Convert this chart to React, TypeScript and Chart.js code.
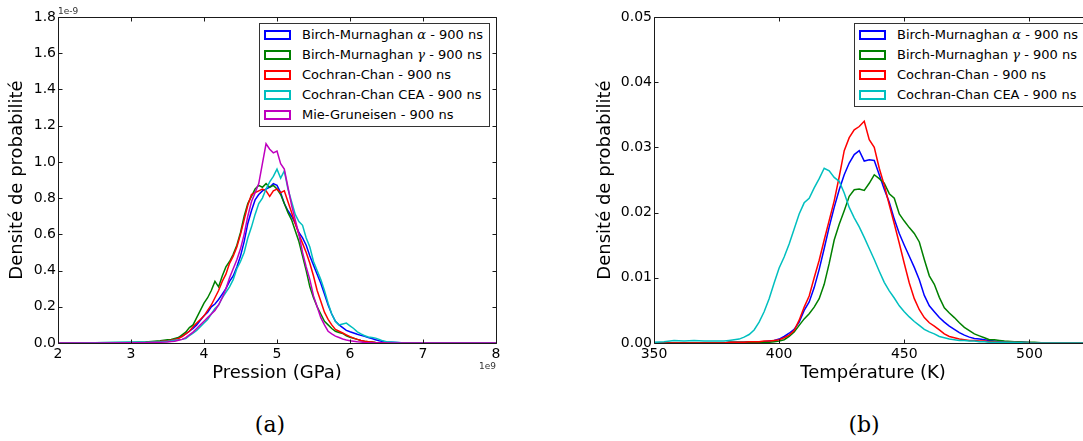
import React, { useEffect, useRef } from "react";
import { Chart, registerables } from "chart.js";

Chart.register(...registerables);

const FONT = '"DejaVu Sans", sans-serif';

// ---------- Panel (a): pressure ----------
const PRESSURE_GPA = [
  2.0, 2.5, 3.0, 3.2, 3.4,
  3.5, 3.55, 3.6, 3.65, 3.7, 3.75, 3.8, 3.85, 3.9, 3.95,
  4.0, 4.05, 4.1, 4.15, 4.2, 4.25, 4.3, 4.35, 4.4, 4.45,
  4.5, 4.55, 4.6, 4.65, 4.7, 4.75, 4.8, 4.85, 4.9, 4.95,
  5.0, 5.05, 5.1, 5.15, 5.2, 5.25, 5.3, 5.35, 5.4, 5.45,
  5.5, 5.55, 5.6, 5.65, 5.7, 5.75, 5.8, 5.85, 5.9, 5.95,
  6.0, 6.05, 6.1, 6.15, 6.2, 6.25, 6.3, 6.35, 6.4, 6.45,
  6.5, 6.7, 7.0, 7.5, 8.0,
];

// densities in units of 1e-9
const P_BM_ALPHA = [
  0, 0, 0.002, 0.004, 0.008,
  0.012, 0.016, 0.02, 0.03, 0.038, 0.05, 0.065, 0.08, 0.1, 0.125,
  0.15, 0.17, 0.2, 0.215, 0.24, 0.27, 0.3, 0.34, 0.37, 0.42,
  0.48, 0.56, 0.66, 0.73, 0.79, 0.82, 0.84, 0.85, 0.86, 0.88,
  0.87, 0.83, 0.77, 0.73, 0.7, 0.66, 0.61, 0.58, 0.54, 0.48,
  0.43, 0.38, 0.33, 0.27, 0.21, 0.16, 0.12, 0.1, 0.085, 0.07,
  0.062, 0.055, 0.048, 0.042, 0.037, 0.03, 0.025, 0.018, 0.012, 0.008,
  0.005, 0.002, 0, 0, 0,
];
const P_BM_GAMMA = [
  0, 0.001, 0.003, 0.005, 0.012,
  0.018, 0.02, 0.025, 0.03, 0.045, 0.06, 0.085, 0.1, 0.14, 0.18,
  0.22, 0.25, 0.29, 0.34, 0.31, 0.37, 0.42, 0.45, 0.49, 0.54,
  0.61, 0.7, 0.77, 0.81, 0.85, 0.87, 0.86, 0.88, 0.86, 0.87,
  0.85, 0.82, 0.77, 0.72, 0.68, 0.62, 0.56, 0.48, 0.4, 0.31,
  0.25, 0.2, 0.16, 0.12, 0.1, 0.08, 0.065, 0.058, 0.053, 0.04,
  0.032, 0.026, 0.02, 0.014, 0.01, 0.007, 0.005, 0.003, 0.002, 0.001,
  0.001, 0, 0, 0, 0,
];
const P_CC = [
  0, 0, 0.001, 0.003, 0.008,
  0.012, 0.015, 0.02, 0.025, 0.035, 0.05, 0.065, 0.09, 0.11, 0.13,
  0.15, 0.18, 0.21, 0.25, 0.29, 0.34, 0.38, 0.44, 0.48, 0.53,
  0.6, 0.68, 0.76, 0.82, 0.83, 0.84, 0.85, 0.84, 0.81, 0.84,
  0.85, 0.83, 0.84, 0.78, 0.72, 0.66, 0.6, 0.55, 0.5, 0.44,
  0.37, 0.29, 0.23, 0.17, 0.13, 0.1, 0.075, 0.065, 0.055, 0.045,
  0.035, 0.027, 0.02, 0.014, 0.01, 0.007, 0.005, 0.003, 0.002, 0.001,
  0.001, 0, 0, 0, 0,
];
const P_CC_CEA = [
  0, 0.002, 0.006, 0.004, 0.007,
  0.01, 0.012, 0.015, 0.018, 0.02, 0.025, 0.04, 0.055, 0.07, 0.09,
  0.11, 0.13, 0.16, 0.19, 0.21, 0.25, 0.28, 0.31, 0.35, 0.41,
  0.45, 0.5, 0.58, 0.64, 0.71, 0.77, 0.8, 0.85, 0.89, 0.92,
  0.96, 0.91, 0.95, 0.85, 0.78, 0.71, 0.67, 0.65, 0.58, 0.53,
  0.45, 0.4, 0.35, 0.29, 0.22, 0.16, 0.12, 0.1, 0.105, 0.11,
  0.095, 0.08, 0.062, 0.05, 0.04, 0.033, 0.03, 0.027, 0.02, 0.012,
  0.007, 0.002, 0, 0, 0,
];
const P_MG = [
  0, 0, 0.001, 0.002, 0.004,
  0.006, 0.008, 0.01, 0.015, 0.02, 0.03, 0.045, 0.06, 0.08, 0.1,
  0.12, 0.14, 0.16, 0.18, 0.21, 0.25, 0.3, 0.36, 0.41, 0.46,
  0.52, 0.6, 0.7, 0.78, 0.83, 0.88, 0.99, 1.1, 1.07, 1.05,
  1.06, 0.99, 0.96, 0.86, 0.76, 0.68, 0.6, 0.5, 0.42, 0.35,
  0.26, 0.2, 0.14, 0.1, 0.065, 0.05, 0.038, 0.03, 0.022, 0.017,
  0.013, 0.01, 0.007, 0.005, 0.003, 0.002, 0.001, 0, 0, 0,
  0, 0, 0, 0, 0,
];

const LABELS_A = [
  "Birch-Murnaghan α - 900 ns",
  "Birch-Murnaghan γ - 900 ns",
  "Cochran-Chan - 900 ns",
  "Cochran-Chan CEA - 900 ns",
  "Mie-Gruneisen - 900 ns",
];
const COLORS_A = ["#0000ff", "#008000", "#ff0000", "#00bfbf", "#bf00bf"];

// ---------- Panel (b): temperature ----------
const TEMPERATURE_K = [
  350, 354, 358, 362, 366, 370, 374, 378,
  380, 382, 384, 386, 388, 390, 392, 394, 396, 398,
  400, 402, 404, 406, 408, 410, 412, 414, 416, 418,
  420, 422, 424, 426, 428, 430, 432, 434, 436, 438,
  440, 442, 444, 446, 448, 450, 452, 454, 456, 458,
  460, 462, 464, 466, 468, 470, 472, 474, 476, 478,
  480, 482, 484, 486, 488, 490,
  494, 498, 502, 506, 510, 515, 520, 525,
];
const T_BM_ALPHA = [
  0, 0, 0, 0, 0, 0, 0, 0,
  0.0001, 0.0001, 0.0001, 0.0001, 0.0002, 0.0002, 0.0002, 0.0002, 0.0003, 0.0004,
  0.0006, 0.001, 0.0015, 0.0021, 0.0032, 0.005, 0.0063, 0.0085, 0.0113, 0.0145,
  0.0178, 0.0208, 0.0235, 0.0258, 0.0276, 0.0289, 0.0295, 0.0279, 0.0281, 0.028,
  0.0258, 0.0236, 0.0216, 0.019, 0.0168, 0.015, 0.0133, 0.0116, 0.0097, 0.0073,
  0.0057, 0.0048, 0.0039, 0.0032, 0.0026, 0.0021, 0.0016, 0.0012, 0.0009, 0.0007,
  0.0006, 0.0005, 0.0004, 0.0003, 0.0002, 0.0002,
  0.0001, 0.0001, 0, 0, 0, 0, 0, 0,
];
const T_BM_GAMMA = [
  0, 0, 0, 0, 0, 0, 0, 0,
  0.0001, 0.0001, 0.0001, 0.0001, 0.0001, 0.0001, 0.0001, 0.0001, 0.0001, 0.0002,
  0.0003, 0.0005, 0.001, 0.0017, 0.0027, 0.0037, 0.0045, 0.0055, 0.0068, 0.009,
  0.0122, 0.0158, 0.0182, 0.0203, 0.0225, 0.0235, 0.0236, 0.0234, 0.0245, 0.0258,
  0.0252, 0.0245, 0.0229, 0.0222, 0.0198, 0.0187, 0.0177, 0.0168, 0.0155, 0.0128,
  0.0103, 0.009, 0.007, 0.0054, 0.0046, 0.0039, 0.0031, 0.0024, 0.0019, 0.0014,
  0.0011, 0.0008, 0.0005, 0.0005, 0.0004, 0.0003,
  0.0002, 0.0001, 0.0001, 0, 0, 0, 0, 0,
];
const T_CC = [
  0, 0, 0, 0, 0, 0, 0, 0,
  0.0001, 0.0001, 0.0001, 0.0001, 0.0002, 0.0002, 0.0002, 0.0003, 0.0003, 0.0004,
  0.0005, 0.0008, 0.0012, 0.0019, 0.0035, 0.0055, 0.0072, 0.01, 0.0127, 0.0158,
  0.0188, 0.0218, 0.0255, 0.0295, 0.0315, 0.0327, 0.0332, 0.034, 0.0312, 0.03,
  0.0268, 0.0242, 0.0212, 0.0183, 0.0153, 0.0122, 0.0092, 0.0068, 0.0051, 0.0039,
  0.0031, 0.0026, 0.002, 0.0014, 0.001, 0.0008, 0.0006, 0.0005, 0.0004, 0.0004,
  0.0003, 0.0003, 0.0002, 0.0002, 0.0001, 0.0001,
  0.0001, 0, 0, 0, 0, 0, 0, 0,
];
const T_CC_CEA = [
  0.0001, 0.0002, 0.0004, 0.0003, 0.0004, 0.0003, 0.0003, 0.0003,
  0.0004, 0.0005, 0.0006, 0.0009, 0.0013, 0.002, 0.0032, 0.0048, 0.0068, 0.0092,
  0.0115, 0.0132, 0.0152, 0.0175, 0.0198, 0.0215, 0.0222, 0.0238, 0.0252, 0.0268,
  0.0264, 0.0254, 0.0248, 0.023, 0.0208, 0.0192, 0.0178, 0.0162, 0.0145, 0.0128,
  0.011, 0.0093, 0.008, 0.0069, 0.0057, 0.0048, 0.004, 0.0033, 0.0027, 0.0021,
  0.0017, 0.0014, 0.001, 0.0008, 0.0006, 0.0005, 0.0004, 0.0004, 0.0003, 0.0003,
  0.0002, 0.0002, 0.0001, 0.0001, 0.0001, 0.0001,
  0.0001, 0, 0, 0, 0, 0, 0, 0,
];

const LABELS_B = [
  "Birch-Murnaghan α - 900 ns",
  "Birch-Murnaghan γ - 900 ns",
  "Cochran-Chan - 900 ns",
  "Cochran-Chan CEA - 900 ns",
];
const COLORS_B = ["#0000ff", "#008000", "#ff0000", "#00bfbf"];

const framePlugin = {
  id: "frame",
  afterDraw(chart: any, _args: any, opts: any) {
    const { ctx, chartArea: a, scales } = chart;
    const L = Math.round(a.left) + 0.5;
    const T = Math.round(a.top) + 0.5;
    const R = Math.round(a.right) + 0.5;
    const B = Math.round(a.bottom) + 0.5;
    ctx.save();
    ctx.strokeStyle = "#1a1a1a";
    ctx.lineWidth = 1;
    ctx.beginPath();
    ctx.rect(L, T, R - L, B - T);
    const tk = 4;
    for (const t of scales.x.ticks) {
      const px = Math.round(scales.x.getPixelForValue(t.value)) + 0.5;
      ctx.moveTo(px, B);
      ctx.lineTo(px, B - tk);
      ctx.moveTo(px, T);
      ctx.lineTo(px, T + tk);
    }
    for (const t of scales.y.ticks) {
      const py = Math.round(scales.y.getPixelForValue(t.value)) + 0.5;
      ctx.moveTo(L, py);
      ctx.lineTo(L + tk, py);
      ctx.moveTo(R, py);
      ctx.lineTo(R - tk, py);
    }
    ctx.stroke();
    ctx.fillStyle = "#333";
    ctx.font = `9px ${FONT}`;
    if (opts && opts.topLeft) {
      ctx.textAlign = "left";
      ctx.textBaseline = "alphabetic";
      ctx.fillText(opts.topLeft, a.left, a.top - 3);
    }
    if (opts && opts.bottomRight) {
      ctx.textAlign = "right";
      ctx.textBaseline = "top";
      ctx.fillText(opts.bottomRight, a.right, a.bottom + 19);
    }
    ctx.restore();
  },
};

type PanelProps = {
  left: number;
  width: number;
  height: number;
  xs: number[];
  series: number[][];
  colors: string[];
  labels: string[];
  xMin: number;
  xMax: number;
  xStep: number;
  yMax: number;
  yStep: number;
  yDecimals: number;
  xTitle: string;
  yTitle: string;
  yAxisWidth: number;
  padRight: number;
  topLeft?: string;
  bottomRight?: string;
};

function ChartPanel(p: PanelProps) {
  const ref = useRef<HTMLCanvasElement>(null);
  useEffect(() => {
    const n = p.series.length;
    const chart = new Chart(ref.current as HTMLCanvasElement, {
      type: "line",
      data: {
        datasets: p.series.map((s, i) => ({
          label: p.labels[i],
          data: p.xs.map((x, j) => ({ x, y: s[j] })),
          borderColor: p.colors[i],
          backgroundColor: p.colors[i],
          borderWidth: 1.5,
          pointRadius: 0,
          fill: false,
          tension: 0,
          order: n - i,
        })),
      },
      options: {
        responsive: false,
        maintainAspectRatio: false,
        animation: false,
        devicePixelRatio: 1,
        events: [],
        layout: { padding: { top: 17, right: p.padRight, left: 0, bottom: 0 } },
        plugins: {
          legend: { display: false },
          tooltip: { enabled: false },
          frame: { topLeft: p.topLeft, bottomRight: p.bottomRight },
        } as any,
        scales: {
          x: {
            type: "linear",
            min: p.xMin,
            max: p.xMax,
            grid: { display: false, drawTicks: false },
            border: { display: false },
            ticks: {
              stepSize: p.xStep,
              includeBounds: false,
              autoSkip: false,
              maxRotation: 0,
              padding: 3,
              color: "#000",
              font: { family: FONT, size: 14 },
              callback: (v: any) => String(v),
            },
            title: {
              display: true,
              text: p.xTitle,
              color: "#000",
              font: { family: FONT, size: 18 },
              padding: { top: 0, bottom: 16 },
            },
            afterFit: (s: any) => {
              s.height = p.height - 343;
            },
          },
          y: {
            type: "linear",
            min: 0,
            max: p.yMax,
            grid: { display: false, drawTicks: false },
            border: { display: false },
            ticks: {
              stepSize: p.yStep,
              padding: 2,
              color: "#000",
              font: { family: FONT, size: 14 },
              callback: (v: any) => Number(v).toFixed(p.yDecimals),
            },
            title: {
              display: true,
              text: p.yTitle,
              color: "#000",
              font: { family: FONT, size: 18 },
              padding: { top: 7, bottom: 0 },
            },
            afterFit: (s: any) => {
              s.width = p.yAxisWidth;
            },
          },
        },
      } as any,
      plugins: [framePlugin],
    });
    return () => chart.destroy();
  }, []);
  return (
    <canvas
      ref={ref}
      width={p.width}
      height={p.height}
      style={{ position: "absolute", left: p.left, top: 0, width: p.width, height: p.height }}
    />
  );
}

function renderLabel(s: string) {
  return s.split(/([αγ])/).map((part, i) =>
    part === "α" || part === "γ" ? (
      <span key={i} style={{ fontFamily: '"DejaVu Serif", serif', fontStyle: "italic" }}>
        {part}
      </span>
    ) : (
      <span key={i}>{part}</span>
    )
  );
}

function Legend(props: { left: number; top: number; width: number; labels: string[]; colors: string[] }) {
  const rowH = 20;
  const height = 12 + (props.labels.length - 1) * rowH + 12;
  return (
    <div
      style={{
        position: "absolute",
        left: props.left,
        top: props.top,
        width: props.width,
        height,
        border: "1px solid #333",
        background: "#fff",
        boxSizing: "border-box",
      }}
    >
      {props.labels.map((lab, i) => {
        const cy = 11 + i * rowH;
        return (
          <React.Fragment key={i}>
            <div
              style={{
                position: "absolute",
                left: 4,
                top: cy - 5,
                width: 27,
                height: 10,
                border: `2px solid ${props.colors[i]}`,
                boxSizing: "border-box",
                background: "#fff",
              }}
            />
            <div
              style={{
                position: "absolute",
                left: 42,
                top: cy - 10,
                height: 20,
                lineHeight: "20px",
                fontFamily: FONT,
                fontSize: 13,
                color: "#000",
                whiteSpace: "pre",
              }}
            >
              {renderLabel(lab)}
            </div>
          </React.Fragment>
        );
      })}
    </div>
  );
}

const captionStyle: React.CSSProperties = {
  position: "absolute",
  top: 414,
  width: 100,
  textAlign: "center",
  fontFamily: '"DejaVu Serif", serif',
  fontSize: 22,
  lineHeight: "22px",
  color: "#000",
};

export default function App() {
  return (
    <div
      style={{
        position: "fixed",
        left: 0,
        top: 0,
        width: 1083,
        height: 441,
        overflow: "hidden",
        background: "#fff",
      }}
    >
      <ChartPanel
        left={0}
        width={540}
        height={400}
        xs={PRESSURE_GPA}
        series={[P_BM_ALPHA, P_BM_GAMMA, P_CC, P_CC_CEA, P_MG]}
        colors={COLORS_A}
        labels={LABELS_A}
        xMin={2}
        xMax={8}
        xStep={1}
        yMax={1.8}
        yStep={0.2}
        yDecimals={1}
        xTitle="Pression (GPa)"
        yTitle="Densité de probabilité"
        yAxisWidth={58}
        padRight={44}
        topLeft="1e-9"
        bottomRight="1e9"
      />
      <ChartPanel
        left={588}
        width={540}
        height={400}
        xs={TEMPERATURE_K}
        series={[T_BM_ALPHA, T_BM_GAMMA, T_CC, T_CC_CEA]}
        colors={COLORS_B}
        labels={LABELS_B}
        xMin={350}
        xMax={525}
        xStep={50}
        yMax={0.05}
        yStep={0.01}
        yDecimals={2}
        xTitle="Température (K)"
        yTitle="Densité de probabilité"
        yAxisWidth={66}
        padRight={36}
      />
      <Legend left={259} top={23} width={231} labels={LABELS_A} colors={COLORS_A} />
      <Legend left={854} top={23} width={233} labels={LABELS_B} colors={COLORS_B} />
      <div style={{ ...captionStyle, left: 220 }}>(a)</div>
      <div style={{ ...captionStyle, left: 814 }}>(b)</div>
    </div>
  );
}
